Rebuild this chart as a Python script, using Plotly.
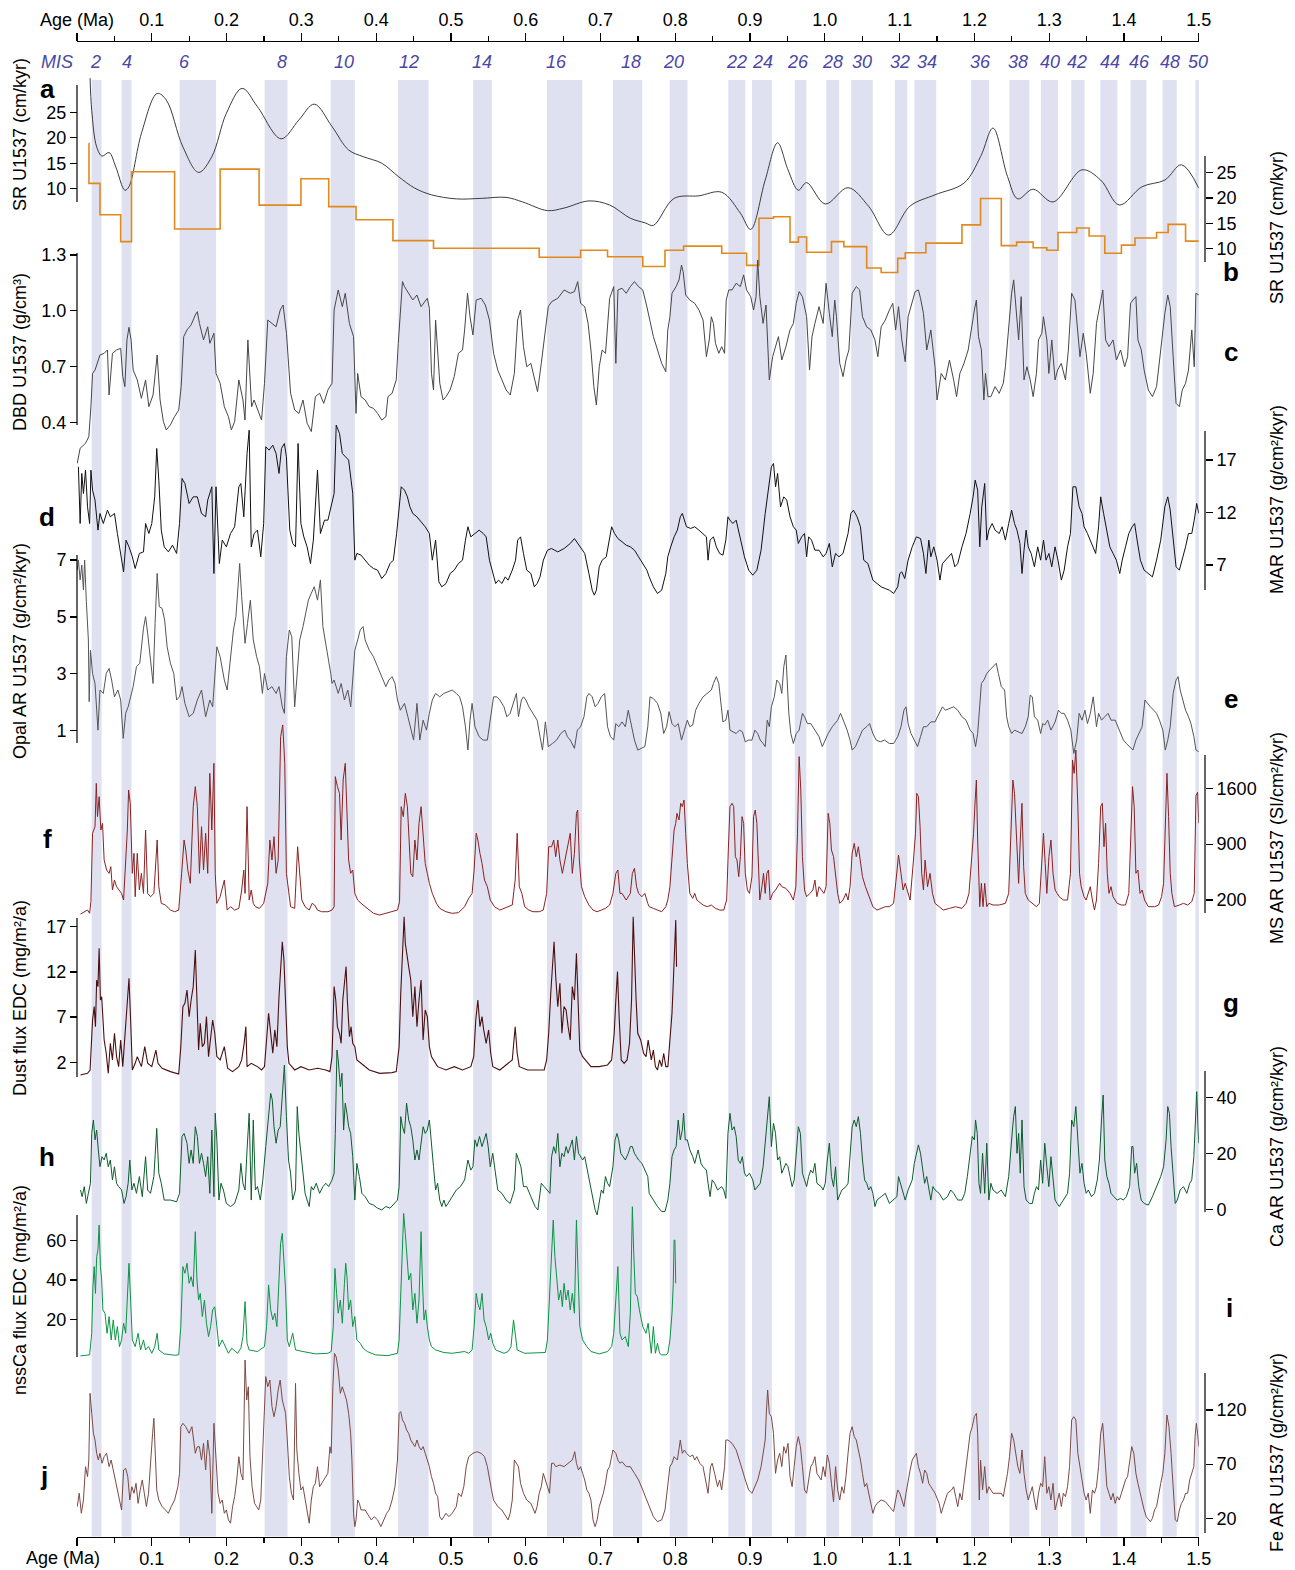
import plotly.graph_objects as go

# ---------------------------------------------------------------- data
AGE_TICKS = [round(0.1 * i, 1) for i in range(16)]
TOP_TICK_TEXT = ["Age (Ma)"] + [f"{t:.1f}" for t in AGE_TICKS[1:]]
BOTTOM_TICK_TEXT = [""] + [f"{t:.1f}" for t in AGE_TICKS[1:]]

MIS_STAGES = [2, 4, 6, 8, 10, 12, 14, 16, 18, 20, 22, 24, 26, 28, 30, 32, 34, 36, 38, 40, 42, 44, 46, 48, 50]
MIS_LABEL_AGES = [0.0249, 0.0672, 0.1443, 0.2746, 0.3576, 0.4441, 0.5409, 0.6412, 0.7412, 0.7978,
                  0.8821, 0.9169, 0.9647, 1.0102, 1.0491, 1.1002, 1.1364, 1.2078, 1.2589, 1.3010,
                  1.3367, 1.3813, 1.4201, 1.4610, 1.4990]
MIS_BANDS = [(0.0196, 0.0329), (0.0596, 0.0729), (0.1372, 0.1860), (0.2509, 0.2815), (0.3392, 0.3715),
             (0.4292, 0.4702), (0.5297, 0.5547), (0.6285, 0.6756), (0.7167, 0.7557), (0.7926, 0.8164),
             (0.8709, 0.8936), (0.9025, 0.9291), (0.9598, 0.9753), (1.0019, 1.0191), (1.0352, 1.0641),
             (1.0936, 1.1102), (1.1197, 1.1490), (1.1957, 1.2196), (1.2468, 1.2734), (1.2889, 1.3117),
             (1.3295, 1.3473), (1.3684, 1.3911), (1.4088, 1.4299), (1.4516, 1.4705), (1.4955, 1.5020)]

# a: smoothed sedimentation rate (cm/kyr)
SR_SMOOTH = [(0.0175, 31.7), (0.0197, 25.4), (0.0263, 18.2), (0.0335, 16.4), (0.0429, 17.1), (0.0518, 14.3),
             (0.064, 9.7), (0.0695, 10.4), (0.0862, 20.9), (0.1072, 28.7), (0.1194, 27.4), (0.1416, 18.2),
             (0.1626, 13.2), (0.1803, 16.3), (0.1997, 24.8), (0.2208, 29.7), (0.2413, 26.1), (0.2729, 19.8),
             (0.2967, 23.5), (0.3172, 26.6), (0.341, 22.2), (0.3632, 17.6), (0.3825, 16.3), (0.4075, 15.0),
             (0.4296, 12.4), (0.4518, 10.1), (0.474, 8.8), (0.5072, 8.0), (0.5405, 8.1), (0.5737, 8.3),
             (0.5959, 7.4), (0.6291, 5.7), (0.6513, 6.2), (0.6845, 7.6), (0.7122, 6.8), (0.7399, 4.2),
             (0.7596, 3.3), (0.7707, 2.8), (0.7984, 8.1), (0.8316, 8.6), (0.8621, 9.3), (0.887, 5.2),
             (0.9008, 2.0), (0.9202, 11.7), (0.9368, 19.0), (0.9507, 13.7), (0.9645, 9.7), (0.9756, 11.2),
             (1.0005, 7.0), (1.031, 10.2), (1.0587, 6.5), (1.0852, 0.9), (1.114, 6.6), (1.1473, 8.8),
             (1.186, 11.1), (1.2082, 16.3), (1.2248, 21.9), (1.2442, 12.4), (1.258, 8.0), (1.2785, 9.9),
             (1.3051, 7.4), (1.3438, 13.7), (1.3688, 11.7), (1.3937, 6.8), (1.4242, 10.4), (1.4546, 11.7),
             (1.4768, 14.7), (1.5, 10.1)]

# b: stepwise sedimentation rate (cm/kyr): step start ages and values
SR_STEP_EDGES = [0.0158, 0.0160, 0.0307, 0.0584, 0.0729, 0.1305, 0.1914, 0.2435, 0.2994, 0.3366,
                 0.3731, 0.4224, 0.4767, 0.6180, 0.6734, 0.7094, 0.7565, 0.7862, 0.8111, 0.8621,
                 0.8953, 0.9119, 0.9313, 0.9534, 0.9645, 0.9756, 1.0088, 1.0254, 1.0559, 1.0753,
                 1.0974, 1.1074, 1.1351, 1.1833, 1.2082, 1.2359, 1.2564, 1.2785, 1.2968, 1.3117,
                 1.3367, 1.3533, 1.3743, 1.3965, 1.4147, 1.4435, 1.4590, 1.4823, 1.5]
SR_STEP_VALUES = [30.8, 22.9, 16.7, 11.4, 25.2, 13.9, 25.7, 18.6, 23.8, 18.3,
                  15.7, 11.6, 10.1, 8.3, 9.7, 8.4, 6.5, 9.7, 10.5, 9.1,
                  6.7, 16.0, 16.3, 11.3, 12.3, 9.3, 11.4, 10.4, 6.2, 5.3,
                  8.1, 9.2, 11.1, 14.7, 19.9, 10.6, 11.3, 10.2, 9.7, 13.2,
                  14.1, 12.5, 9.1, 10.7, 12.1, 13.2, 14.8, 11.5, 11.5]

# c: dry bulk density (g/cm3)
DBD = [(0.0003, 0.179), (0.0042, 0.26), (0.0114, 0.287), (0.0158, 0.323), (0.0186, 0.484), (0.0208, 0.663),
       (0.0241, 0.681), (0.028, 0.735), (0.0307, 0.762), (0.0363, 0.771), (0.0407, 0.789), (0.0429, 0.547),
       (0.0474, 0.771), (0.0529, 0.789), (0.0584, 0.798), (0.0612, 0.646), (0.064, 0.592), (0.0668, 0.843),
       (0.0695, 0.911), (0.0723, 0.843), (0.0751, 0.681), (0.0806, 0.628), (0.0861, 0.529), (0.0917, 0.628),
       (0.0961, 0.484), (0.1017, 0.547), (0.1072, 0.762), (0.1111, 0.52), (0.1155, 0.404), (0.1194, 0.359),
       (0.1249, 0.386), (0.1305, 0.431), (0.136, 0.466), (0.1393, 0.592), (0.1427, 0.861), (0.1471, 0.897),
       (0.1526, 0.924), (0.1582, 0.977), (0.1609, 0.995), (0.1637, 0.932), (0.1692, 0.843), (0.1748, 0.914),
       (0.1776, 0.825), (0.1831, 0.879), (0.1859, 0.663), (0.1914, 0.61), (0.197, 0.484), (0.2025, 0.43),
       (0.2064, 0.359), (0.2108, 0.404), (0.2164, 0.628), (0.2219, 0.52), (0.2246, 0.412), (0.2285, 0.843),
       (0.2313, 0.663), (0.2335, 0.484), (0.2368, 0.52), (0.2413, 0.466), (0.2468, 0.412), (0.2507, 0.61),
       (0.2551, 0.95), (0.2607, 0.932), (0.2662, 0.914), (0.2717, 1.004), (0.2756, 1.031), (0.2801, 0.879),
       (0.2856, 0.556), (0.2911, 0.466), (0.2967, 0.448), (0.3022, 0.52), (0.3077, 0.395), (0.3133, 0.35),
       (0.3188, 0.538), (0.3244, 0.556), (0.3299, 0.502), (0.3355, 0.574), (0.341, 0.61), (0.3438, 1.004),
       (0.3493, 1.112), (0.3548, 1.022), (0.3587, 1.094), (0.3642, 0.932), (0.3698, 0.861), (0.3731, 0.448),
       (0.3753, 0.663), (0.3798, 0.538), (0.3853, 0.52), (0.3908, 0.484), (0.3964, 0.475), (0.4019, 0.448),
       (0.4075, 0.412), (0.413, 0.43), (0.4158, 0.538), (0.4213, 0.556), (0.4269, 0.628), (0.4296, 0.825),
       (0.4324, 1.022), (0.4352, 1.157), (0.4379, 1.13), (0.4435, 1.094), (0.449, 1.058), (0.4545, 1.085),
       (0.4601, 1.022), (0.4684, 1.067), (0.4712, 1.013), (0.474, 0.663), (0.4767, 0.574), (0.4795, 0.95),
       (0.4823, 0.789), (0.4851, 0.61), (0.4895, 0.52), (0.4934, 0.538), (0.4989, 0.574), (0.5044, 0.646),
       (0.51, 0.771), (0.5155, 0.789), (0.5183, 0.897), (0.5222, 1.094), (0.5255, 0.968), (0.5294, 0.87),
       (0.5338, 1.058), (0.5405, 1.067), (0.546, 1.031), (0.5515, 0.95), (0.5571, 0.771), (0.5626, 0.681),
       (0.5682, 0.628), (0.5737, 0.574), (0.5793, 0.547), (0.5848, 0.663), (0.5892, 0.95), (0.5931, 1.004),
       (0.597, 0.807), (0.6014, 0.699), (0.6069, 0.717), (0.6125, 0.628), (0.6158, 0.565), (0.6208, 0.717),
       (0.6247, 0.843), (0.6302, 1.022), (0.6346, 1.049), (0.6429, 1.067), (0.6513, 1.112), (0.6596, 1.094),
       (0.6651, 1.103), (0.6695, 1.157), (0.6734, 1.04), (0.6789, 1.022), (0.6834, 0.932), (0.6872, 0.789),
       (0.6911, 0.592), (0.6945, 0.493), (0.6983, 0.699), (0.7022, 0.789), (0.7067, 0.771), (0.7122, 1.067),
       (0.7177, 1.13), (0.7205, 0.717), (0.7233, 1.112), (0.7288, 1.121), (0.7343, 1.094), (0.7399, 1.13),
       (0.7454, 1.157), (0.7509, 1.13), (0.7565, 1.112), (0.762, 1.022), (0.7707, 0.861), (0.7762, 0.789),
       (0.7818, 0.717), (0.7873, 0.672), (0.79, 0.897), (0.7928, 0.968), (0.7956, 1.094), (0.8011, 1.13),
       (0.805, 1.166), (0.8083, 1.246), (0.8105, 1.21), (0.8139, 1.085), (0.8194, 1.058), (0.826, 1.04),
       (0.8316, 1.004), (0.8371, 0.95), (0.8416, 0.753), (0.8454, 0.843), (0.8482, 0.968), (0.851, 0.932),
       (0.8537, 0.825), (0.8582, 0.771), (0.862, 0.807), (0.8659, 0.771), (0.8681, 1.058), (0.8715, 1.112),
       (0.8759, 1.112), (0.8814, 1.148), (0.887, 1.13), (0.8914, 1.193), (0.8953, 1.112), (0.9008, 1.076),
       (0.9047, 1.004), (0.908, 1.076), (0.9102, 1.273), (0.913, 1.076), (0.9174, 0.932), (0.9213, 1.031),
       (0.9257, 0.628), (0.9302, 0.753), (0.934, 0.807), (0.9379, 0.861), (0.9424, 0.735), (0.9479, 0.807),
       (0.9534, 0.897), (0.9579, 0.932), (0.9617, 1.04), (0.9656, 1.103), (0.97, 1.076), (0.9756, 0.968),
       (0.9795, 0.681), (0.9828, 0.861), (0.9867, 0.932), (0.9922, 1.022), (0.9977, 0.932), (1.0016, 1.148),
       (1.006, 0.986), (1.0099, 0.861), (1.0132, 1.058), (1.0155, 0.968), (1.0199, 0.717), (1.0243, 0.646),
       (1.0282, 0.735), (1.0321, 0.789), (1.0365, 1.094), (1.042, 1.13), (1.0465, 1.112), (1.0503, 0.968),
       (1.0559, 0.914), (1.0614, 0.897), (1.067, 0.843), (1.0708, 0.753), (1.0753, 0.914), (1.0808, 0.95),
       (1.0863, 1.004), (1.0908, 1.04), (1.0946, 0.897), (1.0985, 1.022), (1.1029, 0.843), (1.1074, 0.726),
       (1.1113, 0.968), (1.1168, 1.04), (1.1207, 1.103), (1.1251, 1.112), (1.1279, 1.067), (1.1318, 0.986),
       (1.1362, 0.789), (1.1417, 0.897), (1.1473, 0.699), (1.15, 0.52), (1.1556, 0.663), (1.1611, 0.628),
       (1.1666, 0.735), (1.1722, 0.628), (1.1761, 0.538), (1.1805, 0.663), (1.186, 0.717), (1.1916, 0.789),
       (1.196, 0.914), (1.1999, 1.004), (1.2026, 1.058), (1.2054, 0.861), (1.2093, 0.789), (1.2126, 0.52),
       (1.2148, 0.663), (1.2181, 0.538), (1.222, 0.538), (1.2276, 0.592), (1.2331, 0.556), (1.2386, 0.61),
       (1.2414, 0.699), (1.2458, 0.914), (1.2497, 1.094), (1.2525, 1.166), (1.2558, 1.022), (1.2591, 0.843),
       (1.2625, 1.076), (1.2663, 0.628), (1.2702, 0.699), (1.2746, 0.628), (1.2785, 0.538), (1.2829, 0.663),
       (1.2857, 0.843), (1.2901, 0.879), (1.2923, 0.968), (1.2968, 0.843), (1.2995, 0.663), (1.3034, 0.843),
       (1.3078, 0.628), (1.3112, 0.681), (1.3161, 0.717), (1.3217, 0.628), (1.3256, 0.789), (1.33, 1.094),
       (1.3344, 1.058), (1.3383, 0.897), (1.3411, 0.753), (1.3455, 0.879), (1.3494, 0.771), (1.3549, 0.556),
       (1.3588, 0.663), (1.3632, 0.932), (1.3688, 1.058), (1.3716, 1.112), (1.3754, 0.843), (1.3799, 0.807),
       (1.3854, 0.843), (1.3898, 0.735), (1.3954, 0.789), (1.4009, 0.699), (1.4048, 0.753), (1.4087, 1.04),
       (1.412, 1.058), (1.4159, 1.076), (1.4186, 0.843), (1.4231, 0.789), (1.4269, 0.681), (1.4325, 0.574),
       (1.438, 0.538), (1.4435, 0.592), (1.4491, 0.789), (1.4546, 0.986), (1.4585, 1.085), (1.4618, 1.022),
       (1.4657, 0.753), (1.4696, 0.502), (1.474, 0.484), (1.4779, 0.574), (1.4823, 0.61), (1.4862, 0.681),
       (1.4906, 0.897), (1.4939, 0.699), (1.4961, 1.094), (1.5, 1.085)]

# d: mass accumulation rate (g/cm2/kyr)
MAR = [(0.0019, 16.35), (0.0042, 10.95), (0.0064, 15.72), (0.0086, 13.81), (0.0114, 16.03), (0.0141, 12.54),
       (0.0169, 10.95), (0.0186, 16.03), (0.0208, 14.13), (0.0241, 13.18), (0.028, 10.32), (0.0307, 11.91),
       (0.0352, 10.95), (0.0407, 12.22), (0.0446, 11.59), (0.0501, 11.91), (0.054, 10.0), (0.0584, 8.1),
       (0.0623, 6.35), (0.0656, 9.37), (0.0695, 8.73), (0.074, 7.78), (0.0778, 6.67), (0.0834, 8.1),
       (0.0889, 8.25), (0.0917, 10.95), (0.0961, 10.0), (0.1, 10.95), (0.1039, 13.49), (0.1066, 18.1),
       (0.1094, 15.08), (0.1127, 10.32), (0.1166, 8.73), (0.1222, 8.25), (0.1277, 8.89), (0.1332, 8.1),
       (0.1371, 10.95), (0.1404, 15.24), (0.1443, 14.76), (0.1499, 12.86), (0.1554, 13.49), (0.1609, 13.49),
       (0.1665, 11.91), (0.172, 11.59), (0.1748, 13.18), (0.1803, 14.45), (0.1831, 6.19), (0.1859, 14.45),
       (0.1903, 7.14), (0.1942, 9.37), (0.1997, 8.73), (0.2053, 10.0), (0.2108, 10.64), (0.2164, 14.45),
       (0.2191, 14.76), (0.223, 11.59), (0.2274, 17.62), (0.2302, 19.84), (0.233, 8.73), (0.2368, 10.0),
       (0.2413, 10.32), (0.2457, 7.78), (0.2496, 10.95), (0.2524, 18.26), (0.2568, 17.94), (0.2618, 18.41),
       (0.2662, 17.62), (0.2701, 15.72), (0.2734, 18.1), (0.2773, 18.57), (0.28, 17.3), (0.2845, 10.32),
       (0.2884, 9.05), (0.2922, 8.73), (0.2956, 18.57), (0.2994, 10.95), (0.3033, 9.68), (0.3077, 8.73),
       (0.3122, 7.14), (0.316, 9.37), (0.3216, 16.03), (0.3255, 10.0), (0.331, 11.27), (0.3355, 11.27),
       (0.3399, 12.54), (0.3438, 13.81), (0.3466, 20.32), (0.351, 19.53), (0.3548, 17.62), (0.3593, 17.3),
       (0.3632, 16.99), (0.3665, 15.08), (0.3687, 13.81), (0.3715, 7.46), (0.3742, 8.1), (0.3798, 7.94),
       (0.3853, 7.46), (0.3908, 6.98), (0.3964, 6.67), (0.4019, 6.51), (0.4075, 5.71), (0.413, 6.19),
       (0.4186, 7.14), (0.423, 7.46), (0.4274, 10.0), (0.4307, 12.54), (0.4335, 14.45), (0.4379, 14.13),
       (0.4418, 13.49), (0.4451, 12.54), (0.449, 11.91), (0.4545, 11.59), (0.4601, 11.11), (0.4656, 10.64),
       (0.4712, 10.0), (0.4751, 7.46), (0.4795, 9.37), (0.4839, 5.4), (0.4878, 4.92), (0.4934, 5.24),
       (0.4989, 6.19), (0.5044, 6.51), (0.51, 7.14), (0.5155, 7.46), (0.5194, 9.37), (0.5227, 10.64),
       (0.5266, 9.68), (0.5321, 10.0), (0.5377, 10.32), (0.5432, 10.0), (0.5471, 9.68), (0.5515, 7.46),
       (0.556, 6.19), (0.5598, 5.24), (0.5637, 5.56), (0.5682, 5.24), (0.5726, 5.87), (0.5765, 5.56),
       (0.582, 6.51), (0.5864, 7.46), (0.5892, 9.37), (0.5931, 9.68), (0.597, 8.1), (0.6014, 6.51),
       (0.6069, 6.19), (0.6114, 4.92), (0.6153, 5.24), (0.6191, 5.87), (0.6236, 7.46), (0.6291, 8.41),
       (0.6346, 8.57), (0.6429, 8.25), (0.6513, 8.57), (0.6596, 9.05), (0.6651, 9.52), (0.6695, 9.05),
       (0.6734, 8.57), (0.6789, 8.1), (0.6845, 6.19), (0.6889, 4.6), (0.6917, 4.13), (0.6945, 4.6),
       (0.6983, 6.83), (0.7022, 7.46), (0.7077, 7.78), (0.7122, 9.68), (0.7149, 10.64), (0.7188, 10.0),
       (0.7233, 9.52), (0.7288, 9.21), (0.7343, 8.89), (0.7399, 8.73), (0.7454, 8.41), (0.7509, 7.78),
       (0.7565, 7.14), (0.762, 6.51), (0.7651, 5.87), (0.7707, 4.92), (0.7762, 4.29), (0.7818, 4.6),
       (0.7873, 6.19), (0.79, 7.78), (0.7939, 8.73), (0.7984, 9.68), (0.8028, 10.32), (0.8067, 11.59),
       (0.8094, 11.91), (0.8122, 11.27), (0.815, 10.64), (0.8205, 10.48), (0.826, 10.64), (0.8316, 10.32),
       (0.8371, 10.0), (0.8416, 9.68), (0.8438, 7.46), (0.8465, 9.37), (0.851, 9.68), (0.8549, 8.73),
       (0.8593, 8.1), (0.8637, 7.94), (0.8676, 9.37), (0.8704, 11.59), (0.8731, 11.27), (0.877, 10.95),
       (0.8814, 11.27), (0.8842, 10.32), (0.8881, 9.05), (0.8925, 7.78), (0.8981, 6.51), (0.9036, 6.03),
       (0.9091, 6.51), (0.9147, 8.41), (0.9202, 11.91), (0.9257, 15.08), (0.9285, 16.35), (0.9313, 16.67),
       (0.9341, 14.45), (0.9368, 15.72), (0.9407, 12.54), (0.9451, 13.49), (0.949, 13.18), (0.9534, 11.59),
       (0.9579, 10.64), (0.9617, 10.32), (0.9645, 9.05), (0.9689, 9.68), (0.9728, 10.0), (0.9756, 7.78),
       (0.9783, 9.68), (0.9822, 9.37), (0.9867, 8.41), (0.9922, 8.41), (0.9977, 7.78), (1.0016, 8.1),
       (1.006, 9.05), (1.0099, 6.83), (1.0143, 8.1), (1.0188, 7.78), (1.0243, 8.1), (1.031, 10.0),
       (1.0348, 11.91), (1.0382, 12.22), (1.0431, 11.59), (1.0476, 10.64), (1.052, 7.46), (1.0575, 7.14),
       (1.0642, 5.56), (1.0697, 5.24), (1.0753, 4.92), (1.0808, 4.76), (1.0863, 4.6), (1.0919, 4.29),
       (1.0974, 4.92), (1.1002, 6.19), (1.1029, 6.35), (1.1068, 5.71), (1.1113, 7.46), (1.1168, 8.73),
       (1.1223, 9.68), (1.1279, 9.52), (1.1318, 8.1), (1.1351, 6.19), (1.139, 9.37), (1.1417, 7.78),
       (1.1456, 8.73), (1.15, 7.46), (1.1539, 5.56), (1.1572, 7.14), (1.1611, 7.46), (1.1655, 7.78),
       (1.1694, 8.1), (1.1738, 6.83), (1.1777, 7.14), (1.1833, 8.73), (1.1888, 10.0), (1.1943, 11.91),
       (1.1982, 13.49), (1.201, 15.08), (1.2043, 14.13), (1.2071, 8.73), (1.2098, 12.54), (1.2137, 14.76),
       (1.2165, 9.37), (1.2193, 10.32), (1.2237, 10.95), (1.2276, 10.32), (1.2331, 10.0), (1.237, 10.64),
       (1.2414, 9.37), (1.2458, 10.95), (1.2497, 12.22), (1.2536, 10.95), (1.2569, 10.32), (1.2608, 9.05),
       (1.2636, 6.19), (1.2663, 8.41), (1.2691, 10.32), (1.2719, 8.73), (1.2758, 8.1), (1.2802, 6.83),
       (1.2846, 8.73), (1.2885, 7.46), (1.2924, 9.37), (1.2957, 7.46), (1.2996, 8.1), (1.3034, 6.83),
       (1.3078, 8.73), (1.3117, 7.46), (1.3162, 5.56), (1.32, 6.51), (1.3245, 8.73), (1.3284, 10.0),
       (1.3317, 14.45), (1.3356, 14.45), (1.34, 12.54), (1.3438, 11.91), (1.3466, 10.64), (1.3511, 10.0),
       (1.3549, 9.37), (1.3588, 8.73), (1.3621, 8.1), (1.366, 10.64), (1.3688, 13.49), (1.3727, 11.91),
       (1.3771, 10.0), (1.381, 8.73), (1.3854, 8.1), (1.3898, 7.46), (1.3943, 6.19), (1.3976, 7.46),
       (1.402, 8.73), (1.4064, 10.0), (1.4109, 10.64), (1.4142, 10.95), (1.4175, 9.37), (1.4219, 7.46),
       (1.4269, 6.51), (1.4325, 6.19), (1.438, 5.87), (1.4435, 7.46), (1.4491, 9.37), (1.4546, 12.54),
       (1.4585, 13.49), (1.4618, 12.22), (1.4657, 9.37), (1.4696, 6.83), (1.474, 6.51), (1.4779, 7.46),
       (1.4823, 8.73), (1.4862, 10.0), (1.4906, 10.0), (1.4939, 11.27), (1.4972, 12.86), (1.5, 11.91)]

# e: opal accumulation rate (g/cm2/kyr)
OPAL = [(0.0003, 6.65), (0.0019, 7.0), (0.0042, 6.3), (0.0064, 6.82), (0.0086, 5.95), (0.0102, 7.0),
        (0.0125, 5.54), (0.0141, 4.66), (0.0152, 4.19), (0.0163, 2.02), (0.018, 3.83), (0.0208, 3.01),
        (0.0241, 2.66), (0.028, 1.02), (0.0307, 2.43), (0.0352, 2.31), (0.0391, 3.01), (0.0429, 3.19),
        (0.0463, 2.78), (0.0501, 2.19), (0.0546, 2.43), (0.0584, 2.08), (0.0618, 0.73), (0.0651, 1.61),
        (0.0684, 1.84), (0.0717, 2.19), (0.0751, 2.55), (0.0795, 3.25), (0.0839, 3.37), (0.0889, 4.6),
        (0.0917, 5.01), (0.0945, 4.42), (0.0983, 3.37), (0.1017, 2.66), (0.1044, 4.77), (0.1072, 6.53),
        (0.11, 5.36), (0.1138, 5.3), (0.1172, 4.89), (0.1205, 3.95), (0.1249, 3.37), (0.1294, 3.01),
        (0.1332, 2.08), (0.1371, 2.19), (0.1404, 2.55), (0.1443, 1.96), (0.1499, 1.49), (0.1554, 1.61),
        (0.1609, 2.08), (0.1665, 2.43), (0.172, 1.49), (0.1776, 2.08), (0.1814, 1.84), (0.1848, 3.25),
        (0.187, 3.95), (0.1914, 3.6), (0.197, 2.78), (0.2008, 2.43), (0.2053, 3.6), (0.2092, 4.54),
        (0.2125, 5.01), (0.2153, 6.06), (0.2175, 6.88), (0.2202, 5.71), (0.2247, 4.07), (0.228, 4.77),
        (0.2318, 5.59), (0.2357, 4.19), (0.2402, 3.6), (0.244, 3.25), (0.2479, 2.31), (0.2507, 3.01),
        (0.2551, 2.43), (0.2607, 2.55), (0.2662, 2.31), (0.2701, 2.55), (0.2745, 1.84), (0.2773, 1.61),
        (0.28, 3.6), (0.2839, 4.54), (0.2872, 4.3), (0.2911, 1.84), (0.2945, 3.01), (0.2978, 4.19),
        (0.3022, 4.66), (0.3061, 5.18), (0.3094, 5.59), (0.3133, 5.83), (0.3172, 6.06), (0.3216, 5.59),
        (0.3255, 6.3), (0.3288, 4.66), (0.3327, 4.07), (0.3371, 3.48), (0.3393, 3.01), (0.341, 2.66),
        (0.3438, 2.78), (0.3493, 2.31), (0.3532, 2.66), (0.3576, 2.08), (0.3621, 2.43), (0.366, 1.84),
        (0.3687, 2.78), (0.3715, 3.83), (0.3753, 4.19), (0.3787, 4.54), (0.3825, 4.66), (0.3853, 4.19),
        (0.3908, 3.83), (0.3964, 3.6), (0.4019, 3.25), (0.4075, 2.9), (0.413, 2.55), (0.4169, 2.78),
        (0.4213, 2.9), (0.4252, 2.66), (0.4285, 2.08), (0.4324, 1.72), (0.4379, 1.96), (0.4424, 1.49),
        (0.4463, 1.02), (0.4501, 0.67), (0.4546, 1.96), (0.4584, 0.67), (0.4628, 1.37), (0.4673, 1.02),
        (0.4712, 1.61), (0.4751, 2.08), (0.4795, 2.31), (0.485, 2.19), (0.4906, 2.31), (0.4961, 2.37),
        (0.5017, 2.43), (0.5072, 2.31), (0.5116, 2.19), (0.5155, 1.84), (0.5194, 1.14), (0.5227, 0.32),
        (0.5255, 1.37), (0.5283, 1.96), (0.5321, 1.14), (0.5377, 0.79), (0.5432, 0.67), (0.5487, 0.67),
        (0.5532, 1.49), (0.557, 2.19), (0.5615, 2.19), (0.5654, 2.08), (0.5709, 1.84), (0.5748, 1.49),
        (0.5792, 1.61), (0.5848, 2.08), (0.5875, 2.31), (0.5903, 1.49), (0.5942, 2.08), (0.597, 2.19),
        (0.6003, 2.08), (0.6042, 1.84), (0.6097, 1.61), (0.6153, 1.37), (0.6191, 0.79), (0.6224, 0.32),
        (0.6263, 1.31), (0.6302, 0.44), (0.6357, 0.55), (0.6413, 0.67), (0.6468, 0.9), (0.6524, 1.02),
        (0.6557, 0.79), (0.6596, 0.67), (0.6651, 0.38), (0.669, 1.02), (0.6734, 1.14), (0.6779, 1.49),
        (0.6817, 2.19), (0.6845, 2.31), (0.6889, 2.19), (0.6928, 1.84), (0.6967, 1.96), (0.7011, 2.19),
        (0.7055, 2.31), (0.7094, 1.14), (0.7133, 0.79), (0.7177, 0.67), (0.7205, 1.25), (0.7244, 1.14),
        (0.7288, 1.31), (0.7332, 1.14), (0.7371, 1.72), (0.741, 1.25), (0.7454, 0.67), (0.7498, 0.32),
        (0.7554, 0.38), (0.7593, 0.44), (0.7632, 1.14), (0.7662, 2.19), (0.7707, 2.13), (0.7762, 1.96),
        (0.7806, 1.61), (0.7845, 0.9), (0.7884, 1.14), (0.7917, 1.67), (0.7956, 1.25), (0.7995, 1.14),
        (0.8039, 1.25), (0.8083, 0.67), (0.8122, 1.02), (0.8161, 1.37), (0.8194, 1.14), (0.8233, 1.2),
        (0.8272, 1.72), (0.8316, 1.96), (0.8371, 2.19), (0.8427, 2.31), (0.8482, 2.43), (0.851, 2.66),
        (0.8549, 2.9), (0.8582, 2.66), (0.8609, 2.08), (0.8637, 1.31), (0.8676, 1.37), (0.8704, 1.72),
        (0.8731, 1.02), (0.877, 0.96), (0.8814, 0.9), (0.8859, 1.02), (0.8897, 0.96), (0.8936, 0.61),
        (0.8981, 0.67), (0.9025, 0.67), (0.9064, 1.02), (0.9102, 0.9), (0.9136, 0.67), (0.9174, 0.55),
        (0.9202, 0.44), (0.923, 1.37), (0.9257, 1.14), (0.9285, 1.84), (0.9324, 2.19), (0.9357, 2.78),
        (0.9396, 2.66), (0.9424, 2.31), (0.9451, 3.25), (0.9479, 3.66), (0.9496, 2.66), (0.9518, 1.61),
        (0.9545, 0.9), (0.9579, 0.55), (0.9617, 0.9), (0.9656, 1.02), (0.97, 1.61), (0.9728, 1.49),
        (0.9767, 1.25), (0.9811, 1.25), (0.9867, 1.02), (0.9922, 0.79), (0.9966, 0.44), (1.0005, 0.67),
        (1.0044, 0.9), (1.0099, 1.14), (1.0171, 1.37), (1.021, 1.61), (1.0254, 1.31), (1.0298, 1.02),
        (1.0337, 0.67), (1.0365, 0.32), (1.0409, 0.44), (1.0448, 0.67), (1.0503, 1.02), (1.0559, 1.14),
        (1.0598, 1.25), (1.0642, 0.9), (1.0686, 0.67), (1.0742, 0.61), (1.0797, 0.67), (1.0863, 0.55),
        (1.0919, 0.55), (1.0974, 0.79), (1.1018, 1.14), (1.1057, 1.72), (1.1085, 1.84), (1.1113, 1.25),
        (1.1151, 0.9), (1.1196, 0.67), (1.124, 0.44), (1.1279, 0.79), (1.1318, 1.14), (1.1362, 1.14),
        (1.1417, 1.31), (1.1473, 1.31), (1.1528, 1.61), (1.1572, 1.84), (1.1611, 1.72), (1.1666, 1.78),
        (1.1722, 1.84), (1.1777, 1.72), (1.1833, 1.49), (1.1888, 1.37), (1.1943, 1.02), (1.1982, 0.9),
        (1.2015, 0.44), (1.2043, 0.9), (1.2071, 2.08), (1.2093, 2.66), (1.2126, 2.78), (1.2165, 3.01),
        (1.2204, 3.13), (1.2248, 3.25), (1.2292, 3.37), (1.232, 3.01), (1.2359, 2.55), (1.2403, 2.43),
        (1.2431, 1.49), (1.2458, 1.14), (1.2497, 0.9), (1.2536, 1.02), (1.258, 0.96), (1.2636, 0.9),
        (1.268, 1.14), (1.2719, 1.49), (1.2746, 2.25), (1.2774, 2.19), (1.2802, 1.49), (1.2846, 1.37),
        (1.2885, 0.9), (1.2913, 1.25), (1.294, 1.2), (1.2979, 1.37), (1.3023, 1.02), (1.3079, 1.31),
        (1.3123, 1.72), (1.3162, 1.61), (1.32, 1.61), (1.3245, 1.37), (1.3289, 1.02), (1.3328, 0.2),
        (1.3367, 0.67), (1.34, 1.61), (1.3439, 1.37), (1.3478, 1.72), (1.3511, 1.25), (1.355, 1.61),
        (1.3588, 2.19), (1.3632, 1.14), (1.366, 1.61), (1.3699, 1.37), (1.3743, 1.49), (1.3787, 1.61),
        (1.3826, 1.37), (1.3882, 1.37), (1.3937, 1.02), (1.3992, 0.67), (1.4031, 0.55), (1.4075, 0.44),
        (1.412, 0.32), (1.4159, 0.67), (1.4197, 0.9), (1.4242, 1.14), (1.428, 2.08), (1.4314, 1.96),
        (1.4352, 1.84), (1.4397, 1.72), (1.4435, 1.61), (1.4474, 1.37), (1.4519, 1.02), (1.4552, 0.32),
        (1.4585, 0.67), (1.4618, 1.14), (1.4657, 2.31), (1.4696, 2.78), (1.4723, 2.9), (1.4751, 2.43),
        (1.4784, 2.08), (1.4823, 1.72), (1.4862, 1.49), (1.4895, 1.25), (1.4934, 0.79), (1.4962, 0.32),
        (1.5, 0.26)]

# f: magnetic susceptibility accumulation rate (SI/cm2/kyr)
MS_AR = [(0.0047, 24), (0.0086, 41), (0.0141, 74), (0.0169, 33), (0.0186, 179), (0.0208, 1036), (0.0241, 1119),
         (0.0258, 1662), (0.0274, 1245), (0.0296, 1495), (0.0319, 1077), (0.0341, 1161), (0.0363, 701),
         (0.0396, 576), (0.0429, 534), (0.0452, 618), (0.0474, 325), (0.0501, 450), (0.0529, 367), (0.0562, 325),
         (0.0596, 283), (0.0623, 200), (0.0651, 659), (0.0673, 1077), (0.069, 1579), (0.0712, 1412), (0.074, 534),
         (0.0762, 785), (0.0778, 241), (0.0806, 785), (0.0834, 325), (0.0861, 534), (0.0889, 283), (0.0917, 1077),
         (0.0945, 283), (0.0983, 241), (0.1028, 283), (0.1072, 952), (0.1094, 367), (0.1127, 158), (0.1183, 137),
         (0.1249, 74), (0.1305, 53), (0.136, 74), (0.1399, 534), (0.1432, 952), (0.1454, 827), (0.1482, 576),
         (0.1515, 409), (0.1554, 1370), (0.1582, 1621), (0.1609, 1370), (0.1637, 534), (0.1665, 1119),
         (0.1692, 576), (0.172, 1036), (0.1748, 534), (0.1776, 1788), (0.1803, 1077), (0.1831, 1913),
         (0.1848, 534), (0.187, 158), (0.1914, 241), (0.197, 450), (0.2008, 74), (0.2053, 116), (0.2108, 74),
         (0.2164, 95), (0.2202, 325), (0.223, 576), (0.2247, 283), (0.2274, 1370), (0.2302, 200), (0.233, 325),
         (0.2357, 158), (0.2385, 116), (0.244, 95), (0.2496, 158), (0.2551, 409), (0.2579, 952), (0.2607, 701),
         (0.2634, 994), (0.2662, 534), (0.269, 701), (0.2723, 2247), (0.2751, 2394), (0.2778, 1913), (0.28, 534),
         (0.2856, 116), (0.2911, 95), (0.295, 868), (0.2978, 534), (0.3006, 200), (0.305, 116), (0.3105, 74),
         (0.3144, 158), (0.3177, 137), (0.3216, 74), (0.3271, 53), (0.3355, 53), (0.341, 74), (0.3438, 116),
         (0.3454, 1746), (0.3482, 1621), (0.351, 1537), (0.3532, 952), (0.3559, 1704), (0.3587, 1913),
         (0.3609, 1370), (0.3632, 701), (0.3659, 534), (0.3687, 576), (0.3715, 283), (0.3753, 200), (0.3798, 158),
         (0.3853, 116), (0.3908, 74), (0.3964, 33), (0.4047, 12), (0.413, 33), (0.4213, 53), (0.4285, 74),
         (0.4313, 179), (0.4335, 1370), (0.4363, 1245), (0.439, 1537), (0.4418, 1370), (0.444, 1036), (0.4463, 534),
         (0.449, 492), (0.4518, 952), (0.4546, 701), (0.4573, 1161), (0.4601, 1370), (0.4628, 1036), (0.4656, 659),
         (0.4684, 534), (0.4712, 409), (0.4751, 283), (0.4806, 158), (0.485, 95), (0.4933, 53), (0.5017, 33),
         (0.51, 41), (0.5183, 116), (0.5238, 221), (0.5283, 283), (0.531, 576), (0.5338, 1036), (0.536, 952),
         (0.5388, 785), (0.5416, 659), (0.5449, 450), (0.5487, 367), (0.5526, 200), (0.5582, 116), (0.5654, 74),
         (0.5709, 95), (0.5765, 116), (0.582, 137), (0.5859, 450), (0.5886, 1036), (0.5914, 367), (0.5948, 283),
         (0.5986, 116), (0.6042, 74), (0.6097, 53), (0.618, 53), (0.6235, 74), (0.628, 283), (0.6307, 868),
         (0.6346, 868), (0.6374, 952), (0.6401, 743), (0.6429, 952), (0.6457, 701), (0.649, 534), (0.6523, 701),
         (0.6557, 868), (0.6595, 1036), (0.6623, 534), (0.6651, 785), (0.6678, 1286), (0.6695, 1328),
         (0.6717, 701), (0.6745, 367), (0.6789, 241), (0.6845, 137), (0.69, 74), (0.6955, 53), (0.7011, 74),
         (0.7066, 95), (0.7122, 137), (0.7166, 283), (0.7205, 534), (0.7232, 576), (0.726, 283), (0.7288, 283),
         (0.7343, 200), (0.7399, 283), (0.7426, 534), (0.7454, 597), (0.7482, 367), (0.7509, 283), (0.7554, 241),
         (0.7593, 283), (0.7632, 158), (0.7651, 116), (0.7707, 95), (0.7762, 74), (0.7818, 53), (0.7873, 116),
         (0.79, 200), (0.7928, 367), (0.7956, 701), (0.7984, 1077), (0.8006, 1161), (0.8022, 1286), (0.805, 1203),
         (0.8072, 1412), (0.8094, 1370), (0.8117, 1453), (0.8139, 1036), (0.8161, 659), (0.8194, 283),
         (0.8233, 221), (0.826, 283), (0.8288, 200), (0.8316, 179), (0.8371, 137), (0.8427, 116), (0.8482, 137),
         (0.8537, 95), (0.8593, 74), (0.8648, 74), (0.8687, 200), (0.8709, 827), (0.8731, 1370), (0.8759, 1412),
         (0.8781, 1370), (0.8803, 743), (0.8825, 701), (0.8848, 492), (0.887, 743), (0.8892, 1245), (0.8914, 1161),
         (0.8936, 534), (0.8964, 325), (0.8992, 283), (0.9025, 492), (0.9047, 1245), (0.9069, 1328), (0.9091, 1161),
         (0.9108, 827), (0.913, 200), (0.9158, 367), (0.918, 534), (0.9202, 283), (0.9224, 534), (0.9246, 576),
         (0.9268, 200), (0.9302, 283), (0.934, 325), (0.9396, 409), (0.9424, 367), (0.9479, 346), (0.9534, 283),
         (0.9579, 200), (0.9612, 367), (0.9634, 1036), (0.9656, 1997), (0.9678, 1579), (0.97, 743), (0.9728, 325),
         (0.9756, 241), (0.98, 283), (0.9839, 325), (0.9867, 450), (0.9894, 241), (0.9922, 367), (0.995, 325),
         (0.9988, 283), (1.0016, 367), (1.0044, 1286), (1.0066, 1161), (1.0088, 827), (1.0116, 743), (1.0143, 534),
         (1.0171, 283), (1.0199, 158), (1.0243, 200), (1.0282, 283), (1.031, 200), (1.0337, 367), (1.0365, 785),
         (1.0393, 910), (1.042, 743), (1.0448, 868), (1.0476, 701), (1.0503, 492), (1.0542, 367), (1.0587, 241),
         (1.0642, 116), (1.0697, 74), (1.0753, 95), (1.0808, 116), (1.0863, 116), (1.0919, 158), (1.0952, 450),
         (1.0985, 764), (1.1018, 534), (1.1046, 325), (1.1074, 409), (1.1102, 325), (1.114, 200), (1.1185, 701),
         (1.1212, 1036), (1.1229, 1537), (1.1251, 1495), (1.1273, 1119), (1.1295, 534), (1.1318, 325),
         (1.134, 701), (1.1373, 367), (1.1406, 534), (1.1439, 283), (1.1473, 158), (1.1528, 116), (1.1583, 74),
         (1.1666, 95), (1.1749, 116), (1.1833, 95), (1.1888, 158), (1.1927, 283), (1.196, 701), (1.1988, 1036),
         (1.201, 1453), (1.2026, 1704), (1.2043, 952), (1.2071, 116), (1.2093, 409), (1.2115, 116), (1.2137, 409),
         (1.2165, 116), (1.2193, 158), (1.2248, 137), (1.2331, 137), (1.2414, 158), (1.2458, 283), (1.2486, 952),
         (1.2514, 1704), (1.2536, 1537), (1.2563, 952), (1.2591, 409), (1.2613, 952), (1.2635, 1412),
         (1.2658, 618), (1.268, 283), (1.2719, 200), (1.2774, 158), (1.2829, 116), (1.2868, 158), (1.2896, 618),
         (1.2923, 1036), (1.2946, 659), (1.2968, 283), (1.2996, 743), (1.3023, 952), (1.3051, 534), (1.3079, 325),
         (1.3106, 283), (1.3134, 241), (1.3189, 200), (1.3245, 200), (1.3284, 534), (1.3311, 1955), (1.3333, 1788),
         (1.3356, 2080), (1.3383, 1370), (1.3405, 534), (1.3427, 367), (1.3466, 241), (1.3494, 200), (1.3522, 283),
         (1.3549, 367), (1.3577, 200), (1.3605, 74), (1.3632, 200), (1.366, 659), (1.3688, 1370), (1.371, 1412),
         (1.3732, 868), (1.3754, 1161), (1.3776, 534), (1.3799, 283), (1.3826, 367), (1.3854, 241), (1.3909, 158),
         (1.3965, 137), (1.402, 137), (1.4064, 283), (1.4092, 1036), (1.4114, 1621), (1.4136, 1370), (1.4159, 534),
         (1.4186, 576), (1.4214, 283), (1.4242, 325), (1.4275, 200), (1.4325, 116), (1.4408, 116), (1.4463, 137),
         (1.4502, 241), (1.4529, 409), (1.4552, 1077), (1.4574, 1788), (1.4596, 1245), (1.4618, 534),
         (1.464, 283), (1.4674, 116), (1.474, 137), (1.4795, 158), (1.4851, 137), (1.4906, 179), (1.4939, 283),
         (1.4962, 1508), (1.4984, 1550), (1.5, 1161)]

# g: EDC dust flux (mg/m2/a)
DUST_EDC = [(0.0047, 0.6), (0.0141, 0.78), (0.0175, 1.15), (0.0191, 3.36), (0.0208, 6.68), (0.023, 8.16),
            (0.0247, 5.94), (0.0263, 11.1), (0.028, 10.37), (0.0296, 14.61), (0.0313, 8.89), (0.033, 9.26),
            (0.0346, 5.94), (0.0363, 4.47), (0.0391, 3.0), (0.0418, 0.78), (0.0446, 4.1), (0.0474, 2.26),
            (0.0501, 5.21), (0.0529, 2.63), (0.0557, 1.52), (0.0584, 4.47), (0.0612, 1.52), (0.064, 5.21),
            (0.0668, 7.79), (0.0695, 11.29), (0.0717, 6.68), (0.074, 1.15), (0.0778, 1.89), (0.0806, 2.63),
            (0.0861, 1.52), (0.0906, 3.73), (0.0945, 1.89), (0.1, 1.52), (0.1055, 3.36), (0.1083, 1.89),
            (0.1138, 1.34), (0.1249, 0.97), (0.136, 0.71), (0.1388, 3.73), (0.1416, 8.16), (0.1443, 8.52),
            (0.1471, 10.0), (0.1499, 7.05), (0.1526, 8.89), (0.1554, 10.37), (0.1582, 14.42), (0.1604, 8.89),
            (0.1626, 3.36), (0.1648, 6.31), (0.1676, 3.73), (0.1704, 4.1), (0.1731, 7.05), (0.1759, 2.63),
            (0.1787, 4.47), (0.1814, 6.68), (0.1842, 5.21), (0.187, 2.63), (0.1914, 2.26), (0.197, 3.73),
            (0.2014, 1.34), (0.208, 0.97), (0.2164, 1.52), (0.2202, 2.26), (0.2235, 4.1), (0.2258, 5.94),
            (0.2274, 1.52), (0.233, 1.89), (0.2413, 1.52), (0.2468, 1.15), (0.2507, 1.52), (0.2535, 4.47),
            (0.2562, 7.42), (0.259, 5.21), (0.2618, 3.0), (0.2645, 5.58), (0.2673, 3.73), (0.2701, 9.26),
            (0.2723, 11.84), (0.2745, 15.34), (0.2767, 13.32), (0.2789, 9.26), (0.2812, 3.73), (0.2834, 1.89),
            (0.2911, 1.15), (0.2995, 1.52), (0.3105, 1.15), (0.3216, 1.34), (0.3327, 1.15), (0.3382, 0.97),
            (0.341, 2.63), (0.3438, 10.37), (0.346, 8.89), (0.3482, 5.94), (0.351, 5.21), (0.3532, 4.1),
            (0.3554, 8.89), (0.3576, 10.74), (0.3598, 12.58), (0.3615, 8.89), (0.3643, 4.84), (0.3665, 5.94),
            (0.3687, 4.1), (0.3715, 3.73), (0.3742, 2.26), (0.3798, 1.89), (0.3908, 1.15), (0.4047, 0.78),
            (0.4213, 0.86), (0.4269, 0.97), (0.4307, 3.73), (0.4329, 9.63), (0.4352, 14.05), (0.4374, 18.11),
            (0.439, 15.16), (0.4413, 14.05), (0.4435, 12.58), (0.4463, 11.1), (0.449, 7.05), (0.4518, 10.37),
            (0.4546, 5.94), (0.4573, 8.89), (0.4601, 11.1), (0.4628, 4.47), (0.4656, 7.79), (0.4684, 7.05),
            (0.4712, 3.73), (0.4739, 2.63), (0.4822, 1.52), (0.4933, 1.15), (0.5044, 1.52), (0.5155, 1.15),
            (0.5266, 1.52), (0.5305, 2.63), (0.5332, 6.68), (0.536, 8.89), (0.5388, 5.94), (0.5416, 7.05),
            (0.5438, 5.58), (0.5471, 4.1), (0.5504, 5.58), (0.5532, 3.0), (0.556, 1.52), (0.5654, 1.15),
            (0.5765, 1.89), (0.582, 2.26), (0.5859, 5.94), (0.5886, 3.0), (0.5914, 1.52), (0.6025, 1.15),
            (0.6136, 1.15), (0.6247, 1.15), (0.628, 2.26), (0.6307, 5.21), (0.6335, 9.63), (0.6357, 12.58),
            (0.6379, 15.34), (0.6401, 11.47), (0.6429, 8.16), (0.6457, 10.74), (0.6484, 5.21), (0.6512, 8.16),
            (0.654, 7.79), (0.6567, 5.94), (0.6595, 4.47), (0.6623, 10.37), (0.6651, 8.89), (0.6678, 14.05),
            (0.67, 8.16), (0.6723, 3.36), (0.6761, 2.63), (0.6872, 1.52), (0.6983, 1.52), (0.7094, 1.71),
            (0.7149, 2.26), (0.7183, 5.21), (0.7205, 8.89), (0.7227, 12.03), (0.7249, 7.05), (0.7277, 2.26),
            (0.7316, 1.89), (0.7355, 2.26), (0.7388, 4.1), (0.7415, 8.89), (0.7437, 18.11), (0.7454, 13.32),
            (0.7476, 8.89), (0.7498, 5.21), (0.7537, 4.47), (0.7576, 3.0), (0.7609, 2.63), (0.7637, 4.47),
            (0.7665, 2.63), (0.7679, 2.26), (0.7707, 3.36), (0.7734, 1.52), (0.7762, 1.15), (0.779, 2.26),
            (0.7818, 1.52), (0.7845, 3.0), (0.7873, 1.52), (0.7901, 1.52), (0.7928, 4.47), (0.7956, 7.42),
            (0.7973, 10.74), (0.7989, 14.42), (0.8006, 17.74), (0.8017, 12.58)]

# h: Ca accumulation rate (g/cm2/kyr)
CA_AR = [(0.0047, 6.9), (0.0069, 4.5), (0.0097, 8.1), (0.0125, 2.1), (0.0152, 5.7), (0.018, 9.3), (0.0197, 27.1),
         (0.0219, 31.9), (0.0241, 24.8), (0.0263, 28.3), (0.0285, 21.2), (0.0307, 15.2), (0.0335, 18.8),
         (0.0363, 17.6), (0.0391, 20.0), (0.0418, 15.2), (0.0446, 17.6), (0.0474, 10.5), (0.0501, 15.2),
         (0.0529, 9.3), (0.0557, 8.1), (0.0596, 6.9), (0.0629, 2.1), (0.0656, 4.5), (0.0684, 9.3), (0.0706, 17.6),
         (0.0734, 6.9), (0.0762, 9.3), (0.0795, 5.7), (0.0834, 11.7), (0.0873, 4.5), (0.0917, 18.8), (0.0945, 6.9),
         (0.0983, 5.7), (0.1028, 11.7), (0.1066, 28.9), (0.1094, 12.9), (0.1127, 9.3), (0.1166, 3.3),
         (0.1249, 3.3), (0.1332, 2.7), (0.1371, 5.7), (0.1404, 26.0), (0.1432, 27.1), (0.1471, 23.6),
         (0.1499, 16.4), (0.1526, 21.2), (0.1554, 16.4), (0.1582, 29.5), (0.1609, 26.0), (0.1637, 16.4),
         (0.1665, 20.0), (0.1692, 16.4), (0.172, 11.7), (0.1748, 18.8), (0.1776, 5.7), (0.1803, 28.3),
         (0.1831, 4.5), (0.1848, 34.3), (0.187, 24.8), (0.1898, 3.3), (0.1925, 9.3), (0.1958, 6.9), (0.1997, 2.1),
         (0.2053, 1.0), (0.2108, 2.1), (0.2164, 6.9), (0.2191, 16.4), (0.2219, 9.3), (0.2247, 6.9), (0.2274, 21.2),
         (0.2302, 34.3), (0.233, 3.3), (0.2357, 31.9), (0.2385, 6.9), (0.2413, 8.1), (0.2451, 3.3), (0.2485, 10.5),
         (0.2524, 22.4), (0.2562, 34.3), (0.259, 41.4), (0.2612, 39.0), (0.2634, 29.5), (0.2662, 23.6),
         (0.269, 28.3), (0.2717, 29.5), (0.2745, 39.0), (0.2773, 51.5), (0.28, 33.1), (0.2828, 17.6),
         (0.2856, 12.9), (0.2884, 3.3), (0.2922, 6.9), (0.2945, 36.7), (0.2967, 27.1), (0.2994, 20.0),
         (0.3022, 10.5), (0.305, 5.7), (0.3077, 3.3), (0.3105, 1.0), (0.3133, 8.1), (0.316, 6.9), (0.3199, 9.3),
         (0.3244, 5.7), (0.3288, 8.1), (0.3327, 9.3), (0.3366, 8.1), (0.341, 10.5), (0.3438, 12.9), (0.3454, 27.1),
         (0.3476, 56.9), (0.3493, 53.3), (0.3521, 43.8), (0.3543, 48.6), (0.3565, 28.3), (0.3587, 37.9),
         (0.3609, 34.3), (0.3632, 29.5), (0.3659, 27.1), (0.3687, 18.8), (0.3715, 3.3), (0.3742, 16.4),
         (0.3776, 11.7), (0.3809, 5.7), (0.3853, 4.5), (0.3908, 2.1), (0.3964, 1.5), (0.4019, 0.4), (0.4075, -0.2),
         (0.413, 1.0), (0.4186, 0.4), (0.4241, 2.1), (0.4285, 3.3), (0.4307, 8.1), (0.4329, 33.1), (0.4352, 29.5),
         (0.4379, 27.1), (0.4407, 37.9), (0.4435, 31.9), (0.4463, 29.5), (0.449, 24.8), (0.4518, 17.6),
         (0.4546, 21.2), (0.4573, 17.6), (0.4601, 24.8), (0.4628, 29.5), (0.4656, 27.1), (0.4684, 28.3),
         (0.4712, 31.9), (0.4739, 24.8), (0.4767, 15.2), (0.4795, 6.9), (0.4822, 9.3), (0.485, 3.3), (0.4878, 1.0),
         (0.4906, 3.3), (0.4933, 1.0), (0.4961, 2.1), (0.5017, 4.5), (0.5072, 6.9), (0.5127, 8.1), (0.5183, 10.5),
         (0.5227, 17.6), (0.5266, 14.0), (0.5294, 15.2), (0.5321, 24.8), (0.5349, 22.4), (0.5382, 26.0),
         (0.5415, 22.4), (0.5449, 24.8), (0.5471, 27.1), (0.5498, 22.4), (0.5526, 15.2), (0.5559, 20.0),
         (0.5598, 12.9), (0.5626, 6.9), (0.5682, 5.7), (0.5737, 3.3), (0.5792, 2.1), (0.5848, 6.9), (0.5875, 20.0),
         (0.5903, 17.6), (0.5936, 15.2), (0.597, 8.1), (0.6014, 8.1), (0.6069, 4.5), (0.6125, 1.0), (0.6163, -0.2),
         (0.6208, 9.3), (0.6247, 8.1), (0.628, 6.9), (0.6324, 5.7), (0.6346, 18.8), (0.6374, 22.4), (0.6401, 20.0),
         (0.6429, 27.1), (0.6457, 15.2), (0.6484, 20.0), (0.6512, 18.8), (0.654, 22.4), (0.6567, 20.0),
         (0.6595, 22.4), (0.6623, 24.8), (0.6651, 17.6), (0.6678, 26.0), (0.6706, 20.0), (0.6734, 18.8),
         (0.6761, 17.6), (0.6789, 18.8), (0.6817, 15.2), (0.6844, 10.5), (0.6889, 5.7), (0.6928, -0.2),
         (0.6955, -2.0), (0.6983, 3.3), (0.7011, 6.9), (0.7038, 5.7), (0.7066, 11.7), (0.7094, 9.3), (0.7122, 8.1),
         (0.7166, 15.2), (0.7194, 24.8), (0.7221, 27.1), (0.7243, 24.8), (0.7271, 20.0), (0.7299, 18.8),
         (0.7332, 17.6), (0.7371, 20.0), (0.7399, 22.4), (0.7426, 22.4), (0.7454, 20.0), (0.7482, 18.8),
         (0.7509, 17.6), (0.7554, 16.4), (0.7593, 14.0), (0.7632, 11.7), (0.7651, 5.7), (0.7679, 4.5),
         (0.7707, 3.3), (0.7762, 1.0), (0.7818, -0.8), (0.7862, -0.8), (0.7901, 3.3), (0.7928, 9.3), (0.7956, 18.8),
         (0.7984, 21.2), (0.8011, 22.4), (0.8039, 31.9), (0.8067, 24.8), (0.8094, 28.3), (0.8111, 34.3),
         (0.8133, 24.8), (0.8161, 24.8), (0.8194, 21.2), (0.8233, 18.8), (0.826, 16.4), (0.8305, 21.2),
         (0.8344, 16.4), (0.8371, 15.2), (0.8416, 14.0), (0.8438, 9.3), (0.8465, 4.5), (0.8493, 10.5),
         (0.8526, 9.3), (0.8565, 6.9), (0.862, 8.1), (0.8648, 6.9), (0.8676, 3.9), (0.8704, 27.1), (0.8731, 34.3),
         (0.8759, 28.3), (0.8787, 29.5), (0.8814, 26.0), (0.8842, 17.6), (0.887, 16.4), (0.8897, 18.8),
         (0.8925, 12.9), (0.8953, 11.7), (0.8992, 12.9), (0.9036, 10.5), (0.9064, 6.9), (0.9102, 8.1),
         (0.9136, 9.3), (0.9174, 15.2), (0.9202, 24.8), (0.923, 33.1), (0.9257, 40.2), (0.9285, 22.4),
         (0.9313, 30.7), (0.934, 27.1), (0.9368, 17.6), (0.9396, 18.8), (0.9424, 12.9), (0.9479, 16.4),
         (0.9507, 15.2), (0.9534, 11.7), (0.9562, 8.1), (0.959, 10.5), (0.9617, 21.2), (0.9645, 29.5),
         (0.9673, 27.1), (0.97, 12.9), (0.9728, 10.5), (0.9756, 8.1), (0.9783, 11.7), (0.9811, 14.0),
         (0.9839, 12.9), (0.9867, 16.4), (0.9894, 9.3), (0.995, 8.1), (0.9977, 6.9), (1.0005, 9.3), (1.0033, 17.6),
         (1.006, 23.6), (1.0088, 11.7), (1.0116, 8.1), (1.0143, 15.2), (1.0171, 3.3), (1.0227, 6.9), (1.0282, 8.1),
         (1.031, 9.3), (1.0337, 20.0), (1.0365, 29.5), (1.0393, 31.9), (1.042, 29.5), (1.0448, 33.1),
         (1.0476, 27.1), (1.0503, 17.6), (1.0531, 10.5), (1.0559, 9.3), (1.0587, 6.9), (1.0614, 8.1),
         (1.0642, 5.7), (1.067, 1.0), (1.0697, 3.3), (1.0753, 4.5), (1.0808, 5.7), (1.0863, 2.1), (1.0919, 3.3),
         (1.0963, 4.5), (1.0985, 11.7), (1.1013, 9.3), (1.1041, 6.9), (1.1074, 3.3), (1.1113, 6.9), (1.1168, 10.5),
         (1.1196, 16.4), (1.1223, 20.0), (1.1251, 23.0), (1.1279, 20.0), (1.1307, 15.2), (1.1334, 9.3),
         (1.1362, 11.7), (1.139, 6.9), (1.1417, 3.3), (1.1445, 8.1), (1.1473, 6.9), (1.1528, 5.7), (1.1583, 3.3),
         (1.1639, 4.5), (1.1683, 6.9), (1.1722, 5.7), (1.1777, 3.3), (1.1833, 3.3), (1.1871, 5.7), (1.1905, 11.7),
         (1.1943, 20.0), (1.1971, 26.0), (1.1999, 24.8), (1.2015, 31.9), (1.2038, 27.1), (1.206, 9.3),
         (1.2082, 5.7), (1.2109, 20.0), (1.2137, 5.7), (1.2165, 23.6), (1.2193, 3.3), (1.222, 9.3), (1.2248, 6.9),
         (1.2303, 5.7), (1.2358, 6.9), (1.2414, 4.5), (1.2458, 11.7), (1.2486, 22.4), (1.2508, 28.3),
         (1.2525, 33.1), (1.2547, 36.7), (1.2569, 20.0), (1.2591, 27.1), (1.2613, 12.9), (1.2636, 31.9),
         (1.2663, 8.1), (1.2691, 3.3), (1.2735, 2.1), (1.2774, 2.1), (1.2802, 5.7), (1.2829, 8.1), (1.2857, 6.9),
         (1.2885, 17.6), (1.2912, 9.3), (1.294, 23.6), (1.2968, 15.2), (1.2995, 8.1), (1.3023, 18.8),
         (1.3051, 9.3), (1.3078, 3.3), (1.3106, 2.1), (1.3134, 1.0), (1.3189, 3.3), (1.3245, 5.7), (1.3273, 12.9),
         (1.33, 31.9), (1.3328, 29.5), (1.3356, 36.7), (1.3383, 24.8), (1.3411, 12.9), (1.3438, 16.4),
         (1.3466, 9.3), (1.3494, 5.7), (1.3522, 6.9), (1.3566, 4.5), (1.3605, 5.7), (1.3643, 10.5), (1.3671, 17.6),
         (1.3699, 31.9), (1.3721, 40.8), (1.3743, 17.6), (1.3771, 11.7), (1.3799, 9.3), (1.3826, 5.7),
         (1.3865, 4.5), (1.3909, 3.3), (1.3954, 3.9), (1.3992, 3.3), (1.4031, 4.5), (1.4075, 8.1), (1.4103, 22.4),
         (1.412, 22.4), (1.4142, 12.9), (1.4169, 16.4), (1.4197, 8.1), (1.423, 3.3), (1.4269, 2.1), (1.4325, 1.5),
         (1.438, 4.5), (1.4435, 8.1), (1.4491, 11.7), (1.4529, 15.2), (1.4563, 24.8), (1.4585, 36.7),
         (1.4607, 34.3), (1.4629, 22.4), (1.4657, 12.9), (1.4685, 2.1), (1.4712, 3.3), (1.4751, 6.9),
         (1.4795, 8.1), (1.484, 5.7), (1.4878, 9.3), (1.4906, 10.5), (1.4934, 18.8), (1.495, 31.9), (1.4972, 42.0),
         (1.4989, 29.5), (1.5, 23.6)]

# i: EDC nssCa flux (mg/m2/a)
NSSCA_EDC = [(0.0047, 1.4), (0.0169, 1.9), (0.0197, 12.9), (0.0213, 36.6), (0.023, 46.8), (0.0247, 33.2),
             (0.0263, 51.9), (0.028, 55.3), (0.0296, 68.0), (0.0313, 46.8), (0.033, 40.0), (0.0346, 24.8),
             (0.0374, 23.1), (0.0402, 12.9), (0.0429, 21.4), (0.0457, 9.5), (0.0485, 19.7), (0.0512, 9.5),
             (0.054, 16.3), (0.0568, 6.1), (0.0596, 9.5), (0.0623, 18.0), (0.0651, 12.9), (0.0673, 28.1),
             (0.0695, 48.5), (0.0717, 29.8), (0.074, 9.5), (0.0778, 6.1), (0.0817, 12.9), (0.085, 4.4),
             (0.0889, 9.5), (0.0917, 4.4), (0.0956, 6.1), (0.1, 2.7), (0.1039, 6.1), (0.1072, 12.9), (0.1094, 4.4),
             (0.1166, 2.4), (0.1305, 1.7), (0.136, 1.9), (0.1388, 16.3), (0.1416, 46.8), (0.1443, 43.4),
             (0.1471, 48.5), (0.1499, 38.3), (0.1526, 41.7), (0.1554, 36.6), (0.1582, 64.6), (0.1604, 40.0),
             (0.1626, 29.8), (0.1648, 33.2), (0.1676, 21.4), (0.1704, 29.8), (0.1731, 18.0), (0.1759, 11.2),
             (0.1787, 16.3), (0.1814, 24.8), (0.1842, 26.4), (0.187, 16.3), (0.1898, 6.1), (0.1942, 9.5),
             (0.1981, 6.1), (0.2025, 2.7), (0.2069, 5.3), (0.2147, 2.7), (0.2191, 5.3), (0.2219, 11.2),
             (0.2247, 29.0), (0.2274, 7.8), (0.2302, 4.4), (0.2413, 3.6), (0.2507, 6.1), (0.2535, 16.3),
             (0.2562, 37.5), (0.259, 24.8), (0.2618, 19.7), (0.2645, 23.1), (0.2673, 16.3), (0.2701, 43.4),
             (0.2723, 58.7), (0.2745, 63.7), (0.2767, 50.2), (0.2789, 34.9), (0.2812, 9.5), (0.2839, 6.1),
             (0.2884, 12.9), (0.2922, 4.4), (0.3022, 3.6), (0.3188, 2.4), (0.3355, 2.7), (0.3399, 3.6),
             (0.3427, 16.3), (0.3449, 45.9), (0.3471, 33.2), (0.3493, 23.1), (0.3521, 29.8), (0.3548, 18.0),
             (0.3576, 38.3), (0.3593, 48.5), (0.361, 41.7), (0.3632, 24.8), (0.3659, 29.8), (0.3687, 16.3),
             (0.3715, 21.4), (0.3742, 9.5), (0.3787, 7.8), (0.3825, 5.3), (0.3881, 3.6), (0.3991, 1.9),
             (0.4157, 1.5), (0.4285, 2.7), (0.4307, 9.5), (0.4329, 36.6), (0.4352, 55.3), (0.4368, 73.9),
             (0.439, 63.7), (0.4407, 55.3), (0.4435, 40.0), (0.4463, 43.4), (0.449, 24.8), (0.4518, 33.2),
             (0.4546, 18.0), (0.4573, 29.8), (0.4601, 64.6), (0.4618, 40.0), (0.464, 19.7), (0.4662, 24.8),
             (0.4684, 16.3), (0.4712, 9.5), (0.4739, 6.1), (0.4795, 4.4), (0.4906, 3.1), (0.5017, 2.7),
             (0.5183, 3.6), (0.5238, 2.7), (0.5283, 4.4), (0.531, 16.3), (0.5338, 33.2), (0.536, 28.1),
             (0.5388, 24.8), (0.5416, 33.2), (0.5443, 19.7), (0.5471, 16.3), (0.5504, 9.5), (0.5532, 12.9),
             (0.556, 7.8), (0.5598, 4.4), (0.5709, 2.7), (0.5765, 3.6), (0.5803, 6.1), (0.5837, 19.7),
             (0.5859, 12.9), (0.5886, 4.4), (0.5986, 2.7), (0.6152, 3.1), (0.6263, 3.1), (0.629, 9.5),
             (0.6318, 31.5), (0.6346, 48.5), (0.6368, 70.5), (0.639, 51.9), (0.6412, 43.4), (0.644, 29.8),
             (0.6468, 34.9), (0.649, 26.4), (0.6512, 38.3), (0.654, 29.8), (0.6567, 34.9), (0.6595, 24.8),
             (0.6623, 33.2), (0.6651, 23.1), (0.6678, 70.5), (0.67, 36.6), (0.6723, 16.3), (0.6761, 9.5),
             (0.6817, 6.1), (0.6872, 3.6), (0.6983, 2.4), (0.7094, 3.6), (0.7149, 6.1), (0.7177, 12.9),
             (0.7205, 29.8), (0.7232, 46.8), (0.726, 12.9), (0.7288, 9.5), (0.7332, 11.2), (0.7371, 6.1),
             (0.7399, 23.1), (0.7426, 77.3), (0.7443, 55.3), (0.7465, 33.2), (0.7493, 31.5), (0.752, 24.8),
             (0.7565, 16.3), (0.7609, 12.9), (0.7637, 18.0), (0.7665, 7.8), (0.7679, 2.7), (0.7707, 16.3),
             (0.7734, 2.7), (0.7762, 7.8), (0.779, 2.7), (0.7818, 1.9), (0.7873, 1.9), (0.7901, 2.7),
             (0.7928, 9.5), (0.7956, 23.1), (0.7973, 38.3), (0.7984, 60.3), (0.7995, 60.3), (0.8006, 38.3)]

# j: Fe accumulation rate (g/cm2/kyr)
FE_AR = [(0.0003, 30.8), (0.003, 43.1), (0.0058, 24.6), (0.0086, 36.9), (0.0114, 67.7), (0.0141, 58.5),
         (0.0158, 73.8), (0.0175, 135.4), (0.0197, 116.9), (0.0219, 98.5), (0.0241, 92.3), (0.0263, 80.0),
         (0.0285, 73.8), (0.0307, 80.0), (0.0335, 70.8), (0.0363, 76.9), (0.0396, 80.0), (0.0429, 67.7),
         (0.0457, 73.8), (0.0485, 64.6), (0.0512, 58.5), (0.054, 49.2), (0.0568, 36.9), (0.0596, 27.7),
         (0.0623, 64.6), (0.0651, 66.1), (0.0679, 58.5), (0.0706, 36.9), (0.0734, 49.2), (0.0762, 43.1),
         (0.0789, 52.3), (0.0817, 33.8), (0.0845, 46.2), (0.0873, 55.4), (0.09, 43.1), (0.0928, 30.8),
         (0.0956, 43.1), (0.0983, 73.8), (0.1011, 98.5), (0.1028, 112.3), (0.1044, 83.1), (0.1066, 46.2),
         (0.1094, 36.9), (0.1138, 30.8), (0.1183, 27.7), (0.1222, 24.6), (0.126, 30.8), (0.1305, 36.9),
         (0.1349, 49.2), (0.1371, 61.5), (0.1388, 104.6), (0.1416, 107.7), (0.1454, 104.6), (0.1499, 98.5),
         (0.1537, 104.6), (0.1559, 89.2), (0.1582, 80.0), (0.1609, 86.1), (0.1637, 86.1), (0.1665, 73.8),
         (0.1692, 89.2), (0.172, 64.6), (0.1748, 92.3), (0.1776, 76.9), (0.1803, 24.6), (0.1831, 107.7),
         (0.1859, 70.8), (0.1886, 43.1), (0.1914, 33.8), (0.1942, 36.9), (0.197, 24.6), (0.1997, 27.7),
         (0.2025, 18.5), (0.2053, 15.4), (0.208, 30.8), (0.2108, 40.0), (0.2136, 55.4), (0.2164, 76.9),
         (0.2191, 61.5), (0.2219, 55.4), (0.2247, 166.2), (0.2269, 129.2), (0.2291, 141.5), (0.2313, 76.9),
         (0.2341, 49.2), (0.2374, 33.8), (0.2402, 30.8), (0.2429, 27.7), (0.2457, 36.9), (0.2479, 73.8),
         (0.2501, 104.6), (0.2524, 150.8), (0.2551, 141.5), (0.2579, 147.7), (0.2607, 123.1), (0.2634, 113.8),
         (0.2662, 123.1), (0.269, 138.5), (0.2717, 147.7), (0.2745, 129.2), (0.2767, 123.1), (0.2789, 116.9),
         (0.2812, 92.3), (0.2839, 58.5), (0.2867, 43.1), (0.2895, 36.9), (0.2922, 144.6), (0.2939, 83.1),
         (0.2967, 61.5), (0.2994, 46.2), (0.3022, 49.2), (0.305, 36.9), (0.3077, 24.6), (0.3105, 15.4),
         (0.3133, 36.9), (0.316, 49.2), (0.3188, 52.3), (0.3216, 67.7), (0.3244, 49.2), (0.3271, 52.3),
         (0.3299, 55.4), (0.3327, 58.5), (0.3354, 61.5), (0.3382, 86.1), (0.3399, 80.0), (0.3421, 141.5),
         (0.3443, 172.3), (0.3465, 169.2), (0.3493, 156.9), (0.3521, 135.4), (0.3548, 141.5), (0.3576, 135.4),
         (0.3604, 129.2), (0.3632, 116.9), (0.3659, 98.5), (0.3676, 73.8), (0.3698, 24.6), (0.3715, 12.3),
         (0.3731, 18.5), (0.3753, 36.9), (0.3776, 33.8), (0.3798, 27.7), (0.3853, 27.7), (0.3892, 23.1),
         (0.3936, 18.5), (0.3975, 21.5), (0.4019, 18.5), (0.4063, 12.3), (0.4102, 18.5), (0.4141, 24.6),
         (0.4174, 27.7), (0.4213, 36.9), (0.4252, 49.2), (0.4285, 73.8), (0.4307, 116.9), (0.4329, 118.5),
         (0.4352, 110.8), (0.4379, 107.7), (0.4407, 101.5), (0.4435, 98.5), (0.4463, 92.3), (0.449, 89.2),
         (0.4518, 86.2), (0.4546, 92.3), (0.4573, 86.2), (0.4601, 83.1), (0.4628, 86.2), (0.4656, 80.0),
         (0.4684, 73.8), (0.4712, 67.7), (0.4739, 58.5), (0.4767, 52.3), (0.4795, 43.1), (0.4823, 40.0),
         (0.485, 21.5), (0.4878, 18.5), (0.4906, 21.5), (0.4933, 24.6), (0.4972, 21.5), (0.5017, 24.6),
         (0.5072, 30.8), (0.51, 43.1), (0.5138, 40.0), (0.5172, 49.2), (0.5205, 67.7), (0.5238, 76.9),
         (0.5294, 80.0), (0.5349, 81.5), (0.5404, 80.0), (0.5449, 76.9), (0.5487, 67.7), (0.5515, 58.5),
         (0.5543, 46.2), (0.557, 36.9), (0.5598, 33.8), (0.5626, 30.8), (0.5681, 27.7), (0.5737, 21.5),
         (0.5764, 18.5), (0.5792, 24.6), (0.582, 36.9), (0.5848, 73.8), (0.5875, 70.8), (0.5903, 67.7),
         (0.5931, 52.3), (0.597, 43.1), (0.6014, 36.9), (0.6069, 33.8), (0.6125, 24.6), (0.6152, 30.8),
         (0.618, 43.1), (0.6208, 49.2), (0.6235, 61.5), (0.6263, 55.4), (0.6291, 49.2), (0.6318, 43.1),
         (0.6346, 70.8), (0.6374, 70.8), (0.6401, 67.7), (0.6457, 69.2), (0.6512, 67.7), (0.6567, 70.8),
         (0.6623, 73.8), (0.6656, 81.5), (0.6678, 70.8), (0.6706, 64.6), (0.6734, 67.7), (0.6761, 61.5),
         (0.6789, 55.4), (0.6817, 46.2), (0.6845, 43.1), (0.6872, 36.9), (0.69, 18.5), (0.6928, 12.3),
         (0.6955, 18.5), (0.6983, 30.8), (0.7011, 36.9), (0.7038, 43.1), (0.7066, 52.3), (0.7094, 64.6),
         (0.7122, 67.7), (0.7166, 83.1), (0.7205, 80.0), (0.7232, 73.8), (0.726, 70.8), (0.7288, 72.3),
         (0.7343, 67.7), (0.7399, 67.7), (0.7454, 61.5), (0.7509, 55.4), (0.7565, 46.2), (0.762, 36.9),
         (0.7651, 30.8), (0.7707, 21.5), (0.7762, 16.9), (0.7818, 18.5), (0.7862, 27.7), (0.7901, 49.2),
         (0.7928, 67.7), (0.7956, 70.8), (0.7984, 76.9), (0.8028, 73.8), (0.8067, 92.3), (0.8094, 80.0),
         (0.8122, 83.1), (0.815, 80.0), (0.8194, 76.9), (0.8233, 78.5), (0.826, 73.8), (0.8288, 76.9),
         (0.8327, 70.8), (0.8371, 67.7), (0.8416, 52.3), (0.8438, 43.1), (0.8471, 67.7), (0.8493, 70.8),
         (0.8526, 61.5), (0.8565, 49.2), (0.8593, 55.4), (0.862, 46.2), (0.8659, 67.7), (0.8676, 92.3),
         (0.8704, 92.3), (0.8759, 89.2), (0.8814, 83.1), (0.8859, 73.8), (0.8897, 64.6), (0.8936, 55.4),
         (0.8981, 46.2), (0.9025, 43.1), (0.9064, 49.2), (0.9102, 55.4), (0.9147, 67.7), (0.9174, 80.0),
         (0.9202, 92.3), (0.9219, 120.0), (0.9235, 138.5), (0.9257, 116.9), (0.9285, 113.8), (0.9313, 98.5),
         (0.934, 61.5), (0.9368, 73.8), (0.9396, 80.0), (0.9424, 67.7), (0.9451, 86.2), (0.9479, 80.0),
         (0.9507, 89.2), (0.9534, 58.5), (0.9562, 49.2), (0.959, 67.7), (0.9617, 86.2), (0.9645, 95.4),
         (0.9673, 86.2), (0.97, 67.7), (0.9728, 46.2), (0.9756, 43.1), (0.9783, 55.4), (0.9811, 67.7),
         (0.9839, 70.8), (0.9867, 76.9), (0.9894, 61.5), (0.9922, 58.5), (0.995, 55.4), (0.9977, 67.7),
         (1.0005, 58.5), (1.0033, 78.5), (1.006, 70.8), (1.0088, 52.3), (1.0116, 35.4), (1.0143, 67.7),
         (1.0171, 46.2), (1.0199, 36.9), (1.0227, 49.2), (1.0254, 43.1), (1.0282, 58.5), (1.031, 80.0),
         (1.0337, 98.5), (1.0365, 104.6), (1.0393, 95.4), (1.042, 92.3), (1.0448, 83.1), (1.0476, 73.8),
         (1.0503, 61.5), (1.0531, 49.2), (1.0559, 52.3), (1.0587, 43.1), (1.0614, 36.9), (1.0642, 24.6),
         (1.067, 30.8), (1.0697, 33.8), (1.0753, 36.9), (1.0808, 35.4), (1.0863, 30.8), (1.0919, 26.2),
         (1.0946, 36.9), (1.0974, 46.2), (1.1002, 43.1), (1.1029, 36.9), (1.1057, 30.8), (1.1085, 43.1),
         (1.1113, 55.4), (1.114, 64.6), (1.1168, 73.8), (1.1196, 76.9), (1.1223, 80.0), (1.1251, 67.7),
         (1.1279, 61.5), (1.1307, 52.3), (1.1334, 64.6), (1.1362, 61.5), (1.139, 52.3), (1.1417, 49.2),
         (1.1473, 43.1), (1.1528, 33.8), (1.1556, 24.6), (1.1583, 30.8), (1.1639, 43.1), (1.1694, 46.2),
         (1.1722, 49.2), (1.1749, 40.0), (1.1777, 30.8), (1.1805, 43.1), (1.1833, 36.9), (1.186, 52.3),
         (1.1888, 67.7), (1.1916, 80.0), (1.1943, 98.5), (1.1971, 104.6), (1.1999, 113.8), (1.2026, 116.9),
         (1.2043, 98.5), (1.2065, 36.9), (1.2082, 73.8), (1.2109, 46.2), (1.2137, 67.7), (1.2165, 43.1),
         (1.2193, 49.2), (1.2248, 43.1), (1.2303, 43.1), (1.2359, 43.1), (1.2386, 40.0), (1.2414, 49.2),
         (1.2442, 61.5), (1.2469, 76.9), (1.2497, 98.5), (1.2525, 92.3), (1.2552, 80.0), (1.258, 67.7),
         (1.2608, 61.5), (1.2636, 83.1), (1.2663, 61.5), (1.2691, 46.2), (1.2719, 36.9), (1.2746, 43.1),
         (1.2774, 49.2), (1.2802, 36.9), (1.2829, 27.7), (1.2857, 43.1), (1.2885, 52.3), (1.2912, 49.2),
         (1.294, 76.9), (1.2968, 43.1), (1.2995, 49.2), (1.3023, 36.9), (1.3051, 52.3), (1.3078, 27.7),
         (1.3106, 36.9), (1.3134, 43.1), (1.3162, 30.8), (1.3189, 43.1), (1.3217, 40.0), (1.3245, 49.2),
         (1.3272, 67.7), (1.33, 110.8), (1.3328, 113.8), (1.3356, 110.8), (1.3383, 80.0), (1.3411, 67.7),
         (1.3438, 52.3), (1.3466, 43.1), (1.3494, 36.9), (1.3522, 43.1), (1.3549, 24.6), (1.3577, 46.2),
         (1.3605, 43.1), (1.3632, 49.2), (1.366, 67.7), (1.3688, 98.5), (1.3715, 107.7), (1.3743, 73.8),
         (1.3771, 49.2), (1.3799, 43.1), (1.3826, 36.9), (1.3854, 43.1), (1.3882, 33.8), (1.3909, 40.0),
         (1.3937, 36.9), (1.3965, 43.1), (1.3992, 49.2), (1.402, 55.4), (1.4048, 58.5), (1.4075, 73.8),
         (1.4103, 86.2), (1.4131, 80.0), (1.4159, 61.5), (1.4186, 52.3), (1.4214, 43.1), (1.4242, 36.9),
         (1.4269, 27.7), (1.4297, 21.5), (1.4325, 18.5), (1.4352, 16.9), (1.438, 20.0), (1.4408, 27.7),
         (1.4435, 30.8), (1.4463, 43.1), (1.4491, 52.3), (1.4518, 61.5), (1.4546, 80.0), (1.4574, 115.4),
         (1.4601, 104.6), (1.4629, 80.0), (1.4657, 49.2), (1.4685, 18.5), (1.4712, 16.9), (1.474, 27.7),
         (1.4768, 33.8), (1.4795, 36.9), (1.4823, 43.1), (1.4851, 43.1), (1.4878, 55.4), (1.4906, 61.5),
         (1.4934, 67.7), (1.495, 95.4), (1.4967, 107.7), (1.4984, 98.5), (1.5, 86.2)]

# ---------------------------------------------------------------- layout geometry (pixels)
W, H = 1295, 1570
PL, PR, PT, PB = 77, 1205, 41, 1537
X_END_PX = 1198.8
FONT = "Liberation Sans, Arial, Helvetica, sans-serif"
FS = 18


def paper_x(px):
    return (px - PL) / (PR - PL)


def paper_y(py):
    return (PB - py) / (PB - PT)


panels = [
    dict(data=(list(zip(*SR_SMOOTH))), side="left", cal=((25, 112.3), (10, 188.7)), ext=(74, 244),
         ticks=[10, 15, 20, 25], ticktext=None, line=(85, 202), color="#3c3c3c", width=1.0, shape="spline",
         title="SR U1537 (cm/kyr)", tpos=(20, 135), letter="a", lpos=(47, 89)),
    dict(data=(SR_STEP_EDGES, SR_STEP_VALUES), side="right", cal=((25, 172.7), (10, 248.7)), ext=(138, 278),
         ticks=[10, 15, 20, 25], ticktext=None, line=(156, 262), color="#e2891c", width=1.6, shape="hv",
         title="SR U1537 (cm/kyr)", tpos=(1277, 228), letter="b", lpos=(1231, 272)),
    dict(data=(list(zip(*DBD))), side="left", cal=((1.3, 255.0), (0.4, 422.3)), ext=(248, 472),
         ticks=[0.4, 0.7, 1.0, 1.3], ticktext=["0.4", "0.7", "1.0", "1.3"], line=(253, 425), color="#474747",
         width=1.0, shape="linear", title="DBD U1537 (g/cm³)", tpos=(20, 352), letter="c", lpos=(1231, 352)),
    dict(data=(list(zip(*MAR))), side="right", cal=((17, 460.0), (7, 565.0)), ext=(418, 602),
         ticks=[7, 12, 17], ticktext=None, line=(431, 590), color="#111111", width=1.0, shape="linear",
         title="MAR U1537 (g/cm²/kyr)", tpos=(1277, 500), letter="d", lpos=(47, 517)),
    dict(data=(list(zip(*OPAL))), side="left", cal=((7, 560.0), (1, 730.7)), ext=(553, 760),
         ticks=[1, 3, 5, 7], ticktext=None, line=(555, 743), color="#555555", width=1.0, shape="linear",
         title="Opal AR U1537 (g/cm²/kyr)", tpos=(20, 651), letter="e", lpos=(1231, 699)),
    dict(data=(list(zip(*MS_AR))), side="right", cal=((1600, 788.3), (200, 900.0)), ext=(716, 922),
         ticks=[200, 900, 1600], ticktext=None, line=(755, 913), color="#8a2222", width=1.0, shape="linear",
         title="MS AR U1537 (SI/cm²/kyr)", tpos=(1277, 838), letter="f", lpos=(47, 839)),
    dict(data=(list(zip(*DUST_EDC))), side="left", cal=((17, 926.7), (2, 1062.3)), ext=(910, 1082),
         ticks=[2, 7, 12, 17], ticktext=None, line=(918, 1077), color="#4a1010", width=1.1, shape="linear",
         title="Dust flux EDC (mg/m²/a)", tpos=(20, 998), letter="g", lpos=(1231, 1003)),
    dict(data=(list(zip(*CA_AR))), side="right", cal=((40, 1097.3), (0, 1209.3)), ext=(1043, 1222),
         ticks=[0, 20, 40], ticktext=None, line=(1071, 1212), color="#0d5c2c", width=1.0, shape="linear",
         title="Ca AR U1537 (g/cm²/kyr)", tpos=(1277, 1147), letter="h", lpos=(47, 1157)),
    dict(data=(list(zip(*NSSCA_EDC))), side="left", cal=((60, 1240.7), (20, 1319.3)), ext=(1200, 1362),
         ticks=[20, 40, 60], ticktext=None, line=(1215, 1357), color="#0b9444", width=1.0, shape="linear",
         title="nssCa flux EDC (mg/m²/a)", tpos=(20, 1290), letter="i", lpos=(1229, 1308)),
    dict(data=(list(zip(*FE_AR))), side="right", cal=((120, 1410.0), (20, 1518.3)), ext=(1346, 1534),
         ticks=[20, 70, 120], ticktext=None, line=(1373, 1533), color="#7a4a45", width=1.0, shape="linear",
         title="Fe AR U1537 (g/cm²/kyr)", tpos=(1277, 1453), letter="j", lpos=(44, 1476)),
]

fig = go.Figure()
layout = dict(
    width=W, height=H,
    margin=dict(l=PL, r=W - PR, t=PT, b=H - PB, pad=0),
    paper_bgcolor="white", plot_bgcolor="rgba(0,0,0,0)",
    showlegend=False, font=dict(family=FONT, size=FS, color="black"),
    hovermode=False,
)

xdom = [0, paper_x(X_END_PX)]
common_x = dict(
    range=[0, 1.5], anchor="free",
    showline=True, linecolor="black", linewidth=1.2, showgrid=False, zeroline=False,
    ticks="outside", ticklen=8, tickwidth=1.2, tickcolor="black",
    tickvals=AGE_TICKS, tickfont=dict(size=FS, family=FONT),
    minor=dict(dtick=0.05, tick0=0, ticks="outside", ticklen=5, tickwidth=1.2, tickcolor="black", showgrid=False),
    fixedrange=True,
)
layout["xaxis"] = dict(common_x, domain=xdom, position=0, side="bottom", ticktext=BOTTOM_TICK_TEXT,
                       ticklabelstandoff=-3)
layout["xaxis2"] = dict(common_x, overlaying="x", position=1, side="top", ticktext=TOP_TICK_TEXT)

shapes = []
annotations = []

# glacial (even MIS) bands
for a0, a1 in MIS_BANDS:
    shapes.append(dict(type="rect", xref="x", yref="paper", x0=a0, x1=min(a1, 1.502),
                       y0=paper_y(1536.5), y1=paper_y(80), fillcolor="#dfe1f0",
                       line=dict(width=0), layer="below"))

for i, p in enumerate(panels):
    key = "yaxis" if i == 0 else f"yaxis{i + 1}"
    ref = "y" if i == 0 else f"y{i + 1}"
    (v1, p1), (v2, p2) = p["cal"]
    k = (v2 - v1) / (p2 - p1)
    ptop, pbot = p["ext"]
    vtop = v1 + (ptop - p1) * k
    vbot = v1 + (pbot - p1) * k
    left = p["side"] == "left"
    ax = dict(
        domain=[paper_y(pbot), paper_y(ptop)], range=[vbot, vtop],
        anchor="free", position=0 if left else 1, side="left" if left else "right",
        showline=False, showgrid=False, zeroline=False,
        ticks="outside", ticklen=7, tickwidth=1.2, tickcolor="black",
        tickvals=p["ticks"], tickfont=dict(size=FS, family=FONT), fixedrange=True,
    )
    if p["ticktext"]:
        ax["ticktext"] = p["ticktext"]
    layout[key] = ax

    xs, ys = p["data"]
    fig.add_trace(go.Scatter(x=list(xs), y=list(ys), mode="lines", xaxis="x", yaxis=ref,
                             line=dict(color=p["color"], width=p["width"], shape=p["shape"]),
                             hoverinfo="skip", showlegend=False))

    # axis spine spanning only the labelled part
    xpos = 0 if left else 1
    shapes.append(dict(type="line", xref="paper", yref="paper", x0=xpos, x1=xpos,
                       y0=paper_y(p["line"][1]), y1=paper_y(p["line"][0]),
                       line=dict(color="black", width=1.2)))
    # axis title
    annotations.append(dict(text=p["title"], xref="paper", yref="paper",
                            x=paper_x(p["tpos"][0]), y=paper_y(p["tpos"][1]),
                            textangle=-90, showarrow=False, xanchor="center", yanchor="middle",
                            font=dict(size=FS, family=FONT, color="black")))
    # panel letter
    annotations.append(dict(text=f"<b>{p['letter']}</b>", xref="paper", yref="paper",
                            x=paper_x(p["lpos"][0]), y=paper_y(p["lpos"][1]),
                            showarrow=False, xanchor="center", yanchor="middle",
                            font=dict(size=26, family=FONT, color="black")))

# dummy trace to activate the top age axis
fig.add_trace(go.Scatter(x=[0.75], y=[None], xaxis="x2", yaxis="y", mode="lines",
                         hoverinfo="skip", showlegend=False))

# MIS labels
MIS_COLOR = "#4a47a8"
annotations.append(dict(text="<i>MIS</i>", xref="paper", yref="paper", x=paper_x(57), y=paper_y(62),
                        showarrow=False, xanchor="center", yanchor="middle",
                        font=dict(size=FS, family=FONT, color=MIS_COLOR)))
for stage, age in zip(MIS_STAGES, MIS_LABEL_AGES):
    annotations.append(dict(text=f"<i>{stage}</i>", xref="x", yref="paper", x=age, y=paper_y(62),
                            showarrow=False, xanchor="center", yanchor="middle",
                            font=dict(size=FS, family=FONT, color=MIS_COLOR)))

# bottom age label
annotations.append(dict(text="Age (Ma)", xref="paper", yref="paper", x=paper_x(63), y=paper_y(1558),
                        showarrow=False, xanchor="center", yanchor="middle",
                        font=dict(size=FS, family=FONT, color="black")))

layout["shapes"] = shapes
layout["annotations"] = annotations
layout["template"] = "none"
fig.update_layout(**layout)
fig.write_html("out.html", include_plotlyjs=True, full_html=True,
               config={"displayModeBar": False, "staticPlot": True},
               post_script="document.body.style.margin='0';document.body.style.overflow='hidden';")
